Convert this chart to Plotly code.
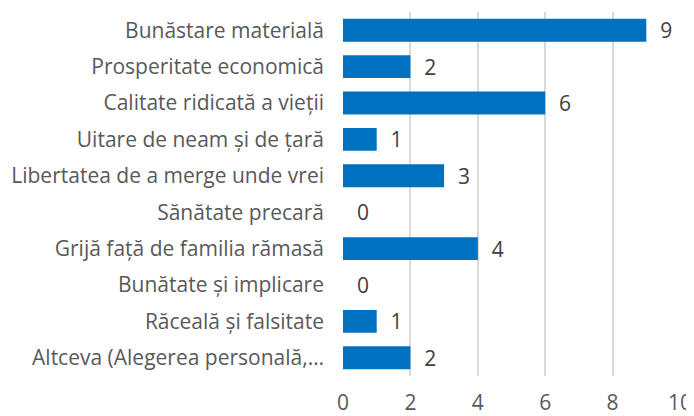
import plotly.graph_objects as go

categories = [
    "Bunăstare materială",
    "Prosperitate economică",
    "Calitate ridicată a vieții",
    "Uitare de neam și de țară",
    "Libertatea de a merge unde vrei",
    "Sănătate precară",
    "Grijă față de familia rămasă",
    "Bunătate și implicare",
    "Răceală și falsitate",
    "Altceva (Alegerea personală,…",
]
values = [9, 2, 6, 1, 3, 0, 4, 0, 1, 2]
x_ticks = [0, 2, 4, 6, 8, 10]

FONT = "'Open Sans', sans-serif"

fig = go.Figure(
    go.Bar(
        x=values,
        y=categories,
        orientation="h",
        marker=dict(color="#0070C0", line=dict(width=0)),
        text=["  " + str(v) for v in values],
        textposition="outside",
        constraintext="none",
        textfont=dict(family=FONT, size=21, color="#404040"),
        cliponaxis=False,
        width=0.63,
    )
)

# page body has an 8px margin, so the figure is sized/offset to compensate
fig.update_layout(
    width=686,
    height=408,
    margin=dict(l=335, r=14, t=4, b=40, autoexpand=False),
    paper_bgcolor="white",
    plot_bgcolor="white",
    showlegend=False,
    font=dict(family=FONT, size=21, color="#595959"),
)
fig.update_xaxes(
    range=[0, 10],
    tickvals=x_ticks,
    showgrid=True,
    gridcolor="#D9D9D9",
    gridwidth=1.5,
    zeroline=False,
    showline=False,
    ticks="",
    automargin=False,
    ticklabelstandoff=12,
    tickfont=dict(family=FONT, size=21, color="#595959"),
)
fig.update_yaxes(
    autorange="reversed",
    showgrid=False,
    zeroline=False,
    showline=False,
    ticks="",
    automargin=False,
    ticklabelstandoff=18,
    tickfont=dict(family=FONT, size=21, color="#595959"),
)

fig.write_html("out.html")
